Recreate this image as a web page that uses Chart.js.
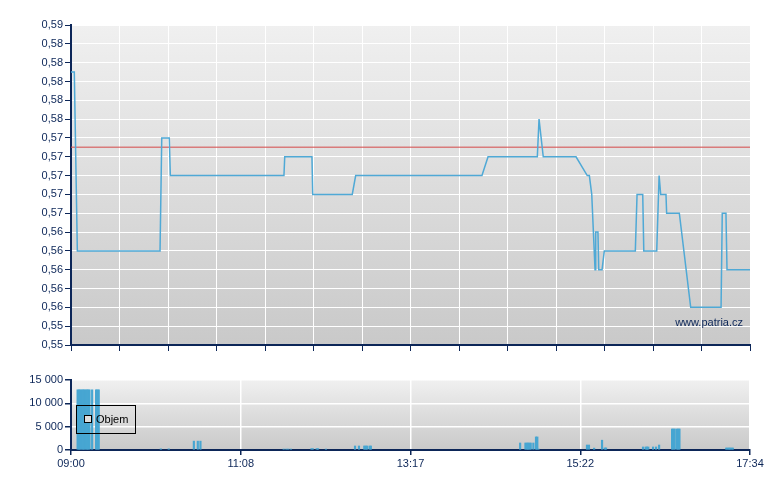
<!DOCTYPE html>
<html>
<head>
<meta charset="utf-8">
<script src="https://cdn.jsdelivr.net/npm/chart.js@4/dist/chart.umd.min.js"></script>
<style>
  body { margin: 0; background: #fff; }
  #wrap { position: relative; width: 780px; height: 490px; }
  #priceBox { position: absolute; left: 0; top: 0; }
  #volBox { position: absolute; left: 0; top: 360px; }
</style>
</head>
<body>
<div id="wrap">
  <div id="priceBox"><canvas id="price" width="780" height="360"></canvas></div>
  <div id="volBox"><canvas id="vol" width="780" height="130"></canvas></div>
</div>
<script>
// minutes after 09:00
const priceMinutes = [0, 2.5, 4.8, 67.4, 68.7, 74.4, 75.2, 161.2, 161.8, 182.4, 183.0, 212.9, 215.5,
  311.1, 315.7, 353.0, 354.3, 357.5, 382.3, 390.8, 392.4, 394.2, 396.7, 397.2, 398.9, 399.5, 402.0,
  403.7, 427.2, 428.5, 432.8, 433.6, 443.4, 445.2, 446.4, 450.4, 450.9, 460.5, 469.1, 492.1, 493.0,
  495.8, 496.6, 514];
const priceValues = [0.580, 0.580, 0.561, 0.561, 0.573, 0.573, 0.569, 0.569, 0.571, 0.571, 0.567, 0.567, 0.569,
  0.569, 0.571, 0.571, 0.575, 0.571, 0.571, 0.569, 0.569, 0.567, 0.559, 0.563, 0.563, 0.559, 0.559,
  0.561, 0.561, 0.567, 0.567, 0.561, 0.561, 0.569, 0.567, 0.567, 0.565, 0.565, 0.555, 0.555, 0.565,
  0.565, 0.559, 0.559];
const refPrice = 0.572;

const volMinutes = [5, 6, 7, 8, 9, 10, 11, 12, 13, 14, 16, 19, 20, 21, 68, 74, 93, 96, 98,
  161, 163, 164.5, 166.5, 182, 183, 186, 187, 193, 215, 218, 222, 223, 224, 226, 227,
  340, 344, 345, 346, 347, 348, 350, 352, 353, 354,
  390.6, 392.1, 396, 402, 404, 405, 433, 435, 436, 437, 440.6, 442.9, 445.2,
  455, 456, 457, 458.7, 459.8, 460.6, 496, 497, 498, 499, 500, 501];
const volValues = [12900, 12900, 12900, 12900, 12900, 12900, 12900, 12900, 12900, 12900, 12900, 12900, 12900, 12900, 250, 250, 1900, 1900, 1900,
  200, 200, 200, 200, 300, 300, 300, 300, 200, 860, 860, 860, 860, 860, 860, 860,
  1500, 1500, 1500, 1500, 1500, 1500, 1500, 2800, 2800, 200,
  1070, 1070, 400, 2100, 450, 450, 650, 650, 650, 650, 650, 650, 1070,
  4500, 4500, 4500, 4500, 4500, 4500, 430, 430, 430, 430, 430, 430];

const xMax = 514;
const xTickLabels = ["09:00", "11:08", "13:17", "15:22", "17:34"];
const yMin = 0.551;
const yStep = 0.002;
const yTickLabels = ["0,55", "0,55", "0,56", "0,56", "0,56", "0,56", "0,56", "0,57", "0,57",
  "0,57", "0,57", "0,57", "0,58", "0,58", "0,58", "0,58", "0,58", "0,59"];
const volTickLabels = ["0", "5 000", "10 000", "15 000"];

const navy = "#0c2658";
const font = { family: "'Liberation Sans', Arial, sans-serif", size: 11 };

// gradient behind the plot area
const plotBg = {
  id: "plotBg",
  beforeDraw(chart) {
    const { ctx, chartArea: a } = chart;
    const g = ctx.createLinearGradient(0, a.top, 0, a.bottom);
    g.addColorStop(0, "#f0f0f0");
    g.addColorStop(1, "#c9c9c9");
    ctx.save();
    ctx.fillStyle = g;
    ctx.fillRect(a.left, a.top, a.right - a.left, a.bottom - a.top);
    ctx.restore();
  },
};

const watermark = {
  id: "watermark",
  afterDatasetsDraw(chart) {
    const { ctx, chartArea: a } = chart;
    ctx.save();
    ctx.font = "11px " + font.family;
    ctx.fillStyle = navy;
    ctx.textAlign = "right";
    ctx.textBaseline = "middle";
    ctx.fillText("www.patria.cz", a.right - 7, a.bottom - 22);
    ctx.restore();
  },
};

const volLegend = {
  id: "volLegend",
  afterDraw(chart) {
    const { ctx, chartArea: a } = chart;
    const x = a.left + 5, y = a.top + 25;
    ctx.save();
    ctx.strokeStyle = "#000";
    ctx.lineWidth = 1;
    ctx.strokeRect(x + 0.5, y + 0.5, 59, 28);
    ctx.fillStyle = "#dedede";
    ctx.fillRect(x + 8, y + 10, 7, 7);
    ctx.strokeRect(x + 8.5, y + 10.5, 7, 7);
    ctx.font = "11px " + font.family;
    ctx.fillStyle = "#000";
    ctx.textBaseline = "middle";
    ctx.fillText(chart.data.datasets[0].label, x + 20, y + 15);
    ctx.restore();
  },
};

new Chart(document.getElementById("price"), {
  type: "line",
  data: {
    datasets: [
      {
        label: "Cena",
        data: priceMinutes.map((m, i) => ({ x: m, y: priceValues[i] })),
        borderColor: "#4fa9d6",
        borderWidth: 1.5,
        pointRadius: 0,
        tension: 0,
      },
      {
        label: "Předchozí",
        data: [{ x: 0, y: refPrice }, { x: xMax, y: refPrice }],
        borderColor: "rgba(214, 80, 80, 0.7)",
        borderWidth: 1.5,
        pointRadius: 0,
      },
    ],
  },
  options: {
    responsive: false,
    animation: false,
    layout: { padding: { left: 0, right: 30, top: 25, bottom: 0 } },
    plugins: { legend: { display: false }, tooltip: { enabled: false } },
    scales: {
      x: {
        type: "linear",
        min: 0,
        max: xMax,
        afterBuildTicks: (s) => {
          s.ticks = Array.from({ length: 15 }, (_, i) => ({ value: (xMax * i) / 14 }));
        },
        afterFit: (s) => { s.height = 15; },
        ticks: { display: false },
        grid: { color: "#ffffff", lineWidth: 1, tickColor: navy, tickLength: 6 },
        border: { color: navy, width: 2 },
      },
      y: {
        min: yMin,
        max: yMin + yStep * 17,
        afterBuildTicks: (s) => {
          s.ticks = yTickLabels.map((_, i) => ({ value: yMin + yStep * i }));
        },
        afterFit: (s) => { s.width = 71; },
        ticks: { color: navy, font, padding: 2, callback: (v, i) => yTickLabels[i] },
        grid: { color: "#ffffff", lineWidth: 1, tickColor: navy, tickLength: 6 },
        border: { color: navy, width: 2 },
      },
    },
  },
  plugins: [plotBg, watermark],
});

new Chart(document.getElementById("vol"), {
  type: "bar",
  data: {
    datasets: [
      {
        label: "Objem",
        data: volMinutes.map((m, i) => ({ x: m, y: volValues[i] })),
        backgroundColor: "#47a6d2",
        barThickness: 1.5,
      },
    ],
  },
  options: {
    responsive: false,
    animation: false,
    layout: { padding: { left: 0, right: 30, top: 20, bottom: 0 } },
    plugins: { legend: { display: false }, tooltip: { enabled: false } },
    scales: {
      x: {
        type: "linear",
        min: 0,
        max: xMax,
        offset: false,
        afterBuildTicks: (s) => {
          s.ticks = xTickLabels.map((_, i) => ({ value: (xMax * i) / (xTickLabels.length - 1) }));
        },
        afterFit: (s) => { s.height = 40; },
        ticks: {
          color: navy, font, padding: 2, maxRotation: 0, autoSkip: false,
          callback: (v, i) => xTickLabels[i],
        },
        grid: { color: "#ffffff", lineWidth: 1.5, tickColor: navy, tickLength: 5, offset: false },
        border: { color: navy, width: 2 },
      },
      y: {
        min: 0,
        max: 15000,
        afterBuildTicks: (s) => {
          s.ticks = volTickLabels.map((_, i) => ({ value: i * 5000 }));
        },
        afterFit: (s) => { s.width = 71; },
        ticks: { color: navy, font, padding: 2, callback: (v, i) => volTickLabels[i] },
        grid: { color: "#ffffff", lineWidth: 1.5, tickColor: navy, tickLength: 6 },
        border: { color: navy, width: 2 },
      },
    },
  },
  plugins: [plotBg, volLegend],
});
</script>
</body>
</html>
